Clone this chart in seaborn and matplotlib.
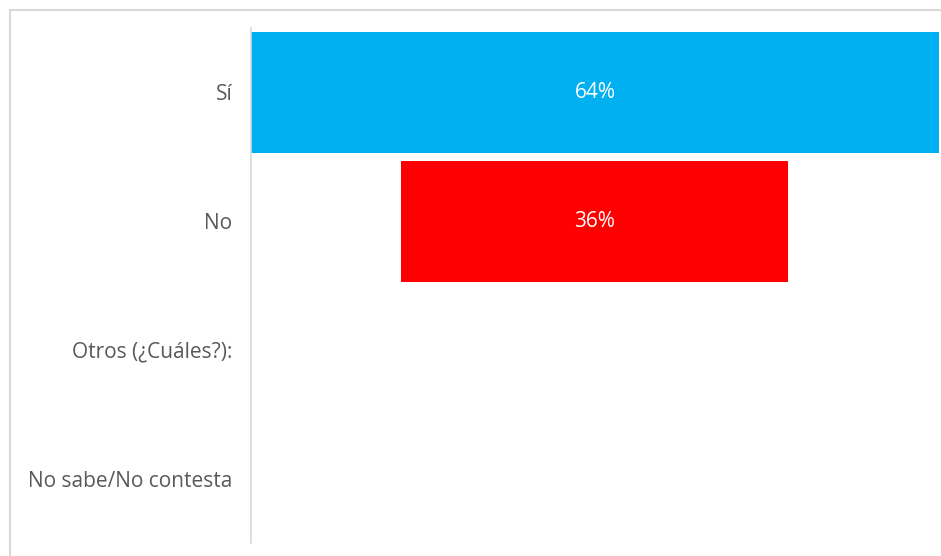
import matplotlib
matplotlib.use("Agg")
import matplotlib.pyplot as plt
import matplotlib.patches as mpatches
import seaborn as sns
import pandas as pd

categories = ["Sí", "No", "Otros (¿Cuáles?):", "No sabe/No contesta"]
values = [64, 36, 0, 0]
colors = ["#00B0F0", "#FF0000", "#A5A5A5", "#FFC000"]

df = pd.DataFrame({"cat": categories, "val": values})

sns.set_theme(style="white")
plt.rcParams["font.family"] = ["Open Sans", "DejaVu Sans"]

W, H = 941, 556
fig = plt.figure(figsize=(W / 100, H / 100), dpi=100)
ax = fig.add_axes([251 / W, 1 - 543 / H, (939 - 251) / W, (543 - 28) / H])

sns.barplot(data=df, x="val", y="cat", hue="cat", palette=colors, orient="h",
            width=0.94, saturation=1, legend=False, ax=ax)

# center each bar around zero (funnel layout)
for patch, v in zip(ax.patches, values):
    patch.set_x(-v / 2)
    patch.set_width(v)
    patch.set_linewidth(0)

for i, v in enumerate(values):
    if v > 0:
        ax.text(0, i, f"{v}%", ha="center", va="center", color="white", fontsize=15)

vmax = max(values)
ax.set_xlim(-vmax / 2, vmax / 2)
ax.set_ylim(3.5, -0.5)
ax.set_xlabel("")
ax.set_ylabel("")
ax.set_xticks([])
ax.tick_params(axis="y", length=0, pad=13.5, labelsize=15, labelcolor="#595959")
for s in ["top", "right", "bottom"]:
    ax.spines[s].set_visible(False)
ax.spines["left"].set_color("#D9D9D9")
ax.spines["left"].set_linewidth(1.2)

# chart area frame
fig.patches.append(mpatches.Rectangle((10 / W, -0.01), 1.0, 1 - 10 / H + 0.01,
                                      transform=fig.transFigure, fill=False,
                                      edgecolor="#D9D9D9", linewidth=1.5))

fig.savefig("out.png", dpi=100, facecolor="white")
